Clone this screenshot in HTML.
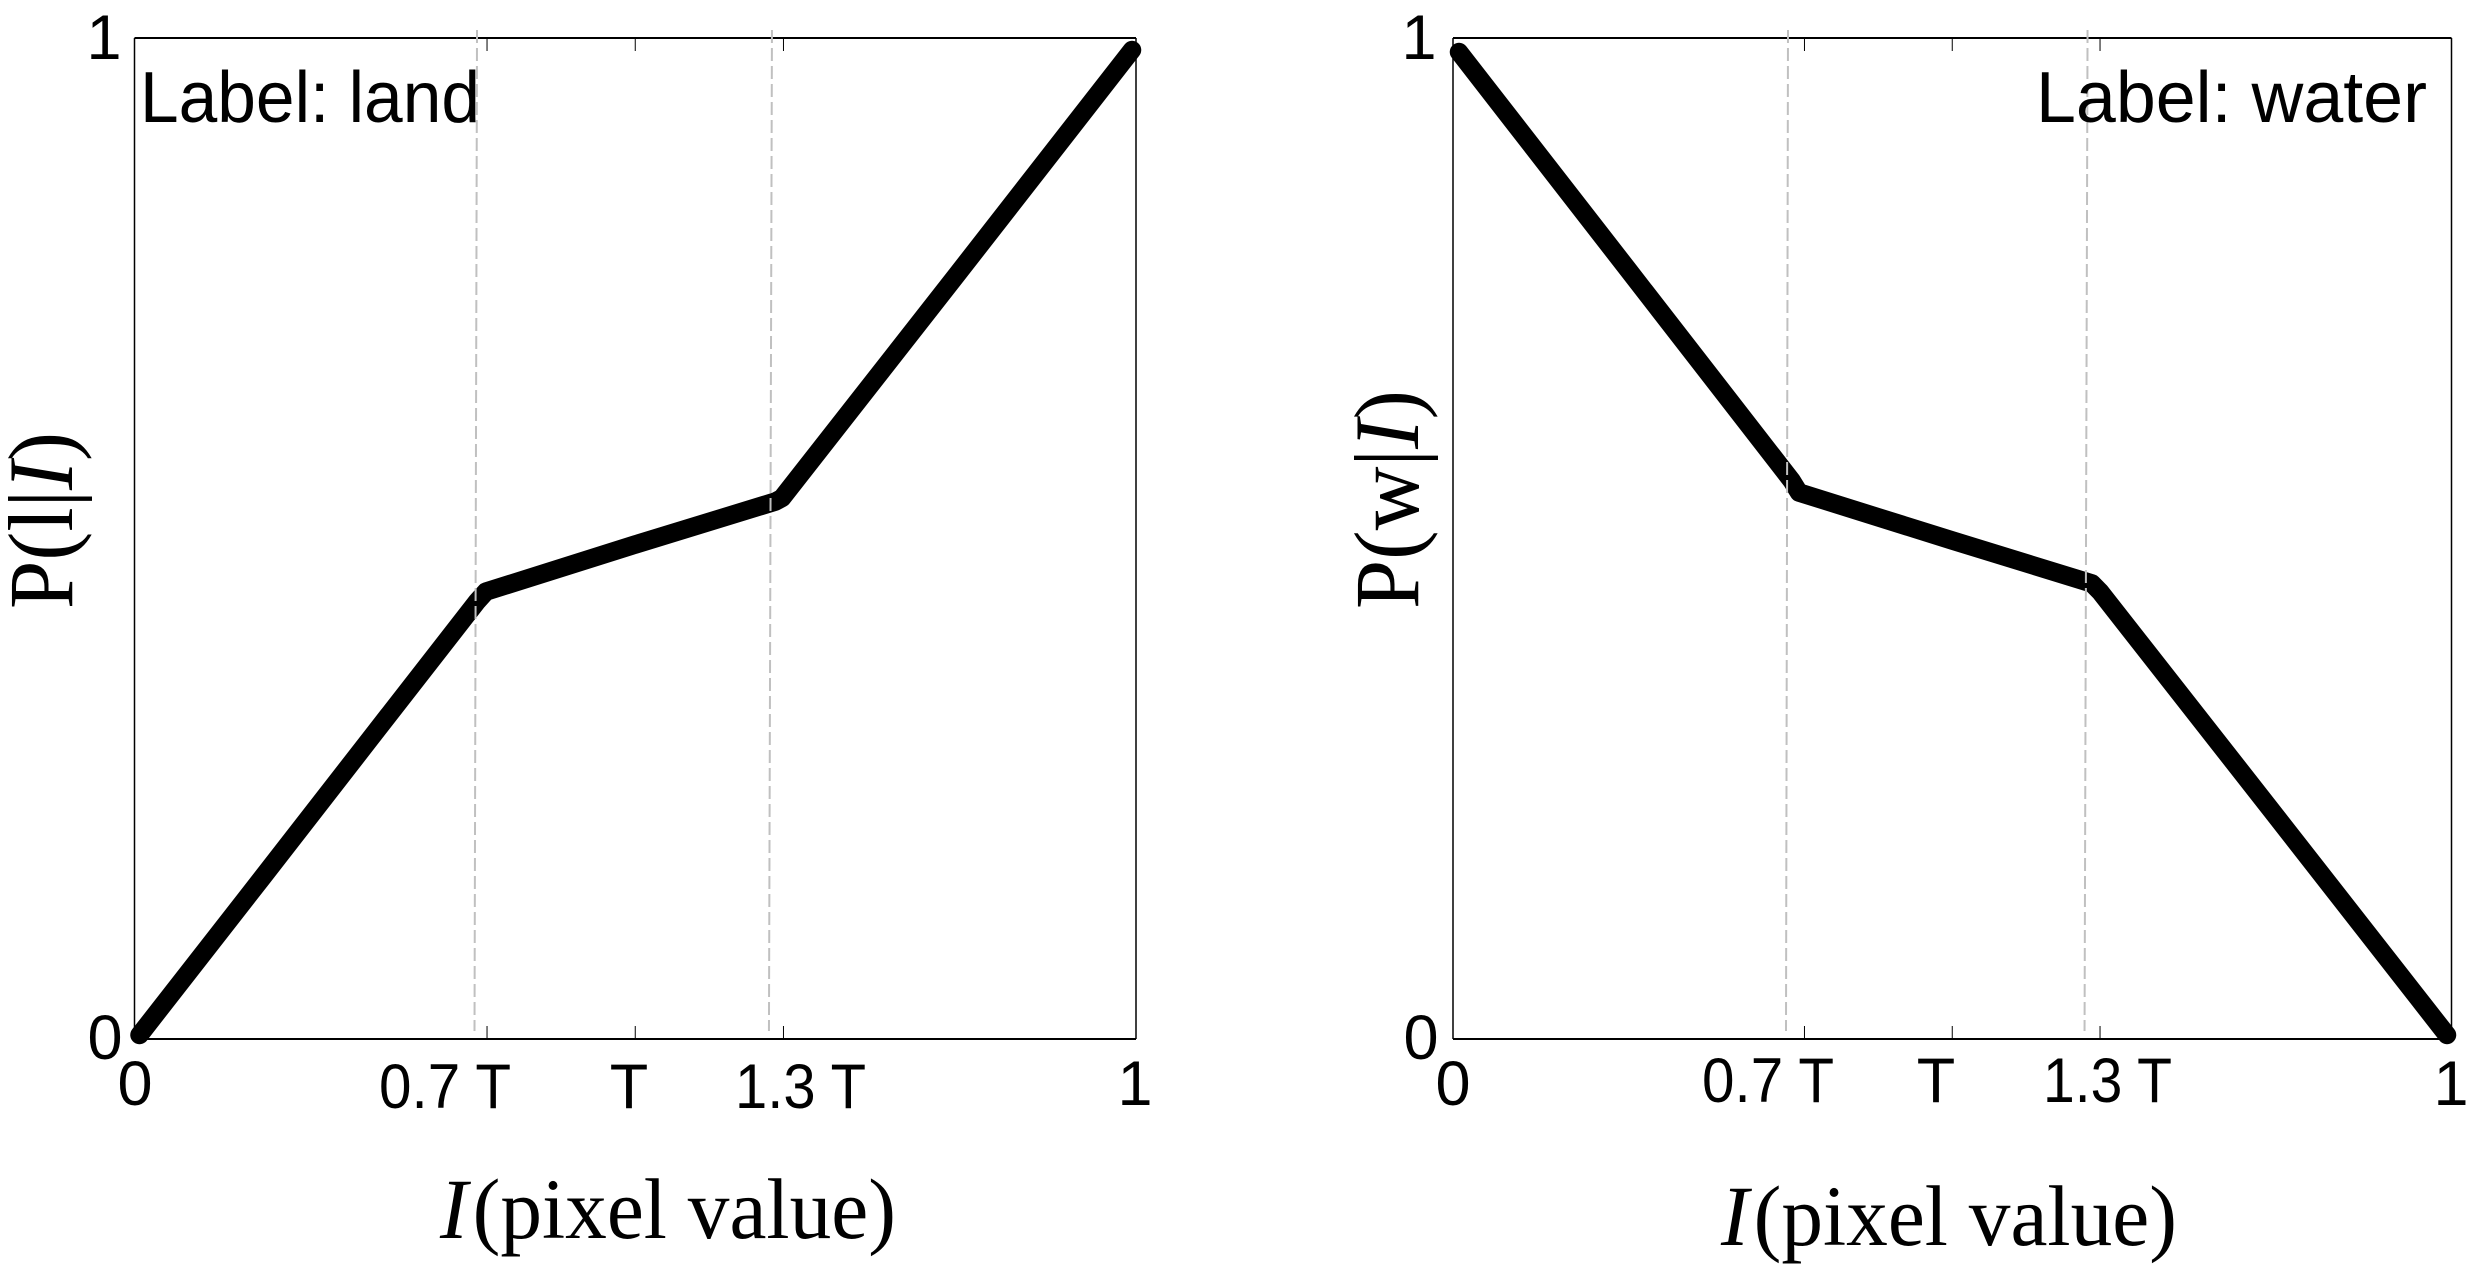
<!DOCTYPE html>
<html lang="en">
<head>
<meta charset="utf-8">
<title>P(l|I) and P(w|I) versus pixel value</title>
<style>
html,body{margin:0;padding:0;background:#fff;}
svg{display:block;}
.sans{font-family:"Liberation Sans",sans-serif;fill:#000;}
.serif{font-family:"Liberation Serif",serif;fill:#000;}
</style>
</head>
<body>
<svg id="figure" width="2467" height="1275" viewBox="0 0 2467 1275" xmlns="http://www.w3.org/2000/svg">
  <rect width="2467" height="1275" fill="#fff"/>

  <g id="panel-land"></g>
  <g id="panel-water"></g>

  <!-- Land panel text -->
  <text class="sans" x="140" y="122" font-size="72" textLength="340" lengthAdjust="spacingAndGlyphs">Label: land</text>
  <text class="sans" x="104" y="59" font-size="63" text-anchor="middle">1</text>
  <text class="sans" x="105" y="1059" font-size="63" text-anchor="middle">0</text>
  <text class="sans" x="135" y="1105" font-size="63" text-anchor="middle">0</text>
  <text class="sans" x="379" y="1108" font-size="63" textLength="132" lengthAdjust="spacingAndGlyphs">0.7 T</text>
  <text class="sans" x="629" y="1108" font-size="63" text-anchor="middle">T</text>
  <text class="sans" x="735" y="1108" font-size="63" textLength="131" lengthAdjust="spacingAndGlyphs">1.3 T</text>
  <text class="sans" x="1135" y="1105" font-size="63" text-anchor="middle">1</text>
  <text class="serif" x="440" y="1238" font-size="86" textLength="456" lengthAdjust="spacingAndGlyphs"><tspan font-style="italic">I</tspan><tspan font-size="20"> </tspan>(pixel value)</text>
  <text class="serif" transform="translate(72,609) rotate(-90)" font-size="92" textLength="177" lengthAdjust="spacingAndGlyphs">P(l|<tspan font-style="italic">I</tspan>)</text>

  <!-- Water panel text -->
  <text class="sans" x="2036" y="122" font-size="72" textLength="391" lengthAdjust="spacingAndGlyphs">Label: water</text>
  <text class="sans" x="1419" y="59" font-size="63" text-anchor="middle">1</text>
  <text class="sans" x="1421" y="1059" font-size="63" text-anchor="middle">0</text>
  <text class="sans" x="1453" y="1105" font-size="63" text-anchor="middle">0</text>
  <text class="sans" x="1702" y="1102" font-size="63" textLength="132" lengthAdjust="spacingAndGlyphs">0.7 T</text>
  <text class="sans" x="1936" y="1102" font-size="63" text-anchor="middle">T</text>
  <text class="sans" x="2043" y="1102" font-size="63" textLength="129" lengthAdjust="spacingAndGlyphs">1.3 T</text>
  <text class="sans" x="2451" y="1105" font-size="63" text-anchor="middle">1</text>
  <text class="serif" x="1721" y="1245" font-size="86" textLength="456" lengthAdjust="spacingAndGlyphs"><tspan font-style="italic">I</tspan><tspan font-size="20"> </tspan>(pixel value)</text>
  <text class="serif" transform="translate(1418,609) rotate(-90)" font-size="92" textLength="219" lengthAdjust="spacingAndGlyphs">P(w|<tspan font-style="italic">I</tspan>)</text>
</svg>

<script>
// Chart data
const xTickValues = [0, 0.352, 0.5, 0.648, 1];
const landX = [0.005, 0.1273, 0.2351, 0.342, 0.351, 0.5, 0.640, 0.6465, 0.82, 0.996];
const landY = [0.004, 0.1608, 0.2997, 0.437, 0.447, 0.494, 0.537, 0.5405, 0.762, 0.988];
const waterX = [0.006, 0.175, 0.339, 0.3465, 0.5, 0.640, 0.648, 0.82, 0.9955];
const waterY = [0.986, 0.769, 0.558, 0.546, 0.498, 0.455, 0.447, 0.228, 0.004];
const landGuideTop = [0.3420, 0.6365];
const landGuideBottom = [0.3395, 0.6335];
const waterGuideTop = [0.3355, 0.6355];
const waterGuideBottom = [0.3335, 0.6325];

const SVG_NS = 'http://www.w3.org/2000/svg';

function line(parent, x1, y1, x2, y2, color, width) {
  const el = document.createElementNS(SVG_NS, 'line');
  el.setAttribute('x1', x1);
  el.setAttribute('y1', y1);
  el.setAttribute('x2', x2);
  el.setAttribute('y2', y2);
  el.setAttribute('stroke', color);
  el.setAttribute('stroke-width', width);
  parent.appendChild(el);
  return el;
}

function drawPanel(groupId, box, xs, ys, guideTop, guideBottom, prefix) {
  const g = document.getElementById(groupId);
  const sx = v => box.left + v * (box.right - box.left);
  const sy = v => box.bottom - v * (box.bottom - box.top);

  const leftAxis = line(g, box.left, box.top, box.left, box.bottom, '#000', 1.5);
  
  
  const rightAxis = line(g, box.right, box.top, box.right, box.bottom, '#000', 1.5);
  
  
  const topAxis = line(g, box.left, box.top, box.right, box.top, '#000', 2);
  
  
  const bottomAxis = line(g, box.left, box.bottom, box.right, box.bottom, '#000', 2);
  
  

  xTickValues.slice(1, -1).forEach((v) => {
    const tickB = line(g, sx(v), box.bottom, sx(v), box.bottom - 13, '#000', 1);
    
    
    const tickT = line(g, sx(v), box.top, sx(v), box.top + 13, '#000', 1);
    
    
  });

  const path = document.createElementNS(SVG_NS, 'path');
  path.setAttribute('d', xs.map((x, i) => (i ? 'L' : 'M') + sx(x).toFixed(1) + ' ' + sy(ys[i]).toFixed(1)).join(' '));
  path.setAttribute('fill', 'none');
  path.setAttribute('stroke', '#000');
  path.setAttribute('stroke-width', 18.5);
  path.setAttribute('stroke-linejoin', 'round');
  path.setAttribute('stroke-linecap', 'round');
  
  
  g.appendChild(path);

  guideTop.forEach((v, i) => {
    const guide = line(g, sx(v), box.top - 8, sx(guideBottom[i]), box.bottom - 8, '#c0c0c0', 2);
    guide.setAttribute('stroke-dasharray', '13 5');
    
    
  });
}

const landBox = { left: 134.5, right: 1136, top: 38, bottom: 1039 };
const waterBox = { left: 1453, right: 2451.5, top: 38, bottom: 1039 };
drawPanel('panel-land', landBox, landX, landY, landGuideTop, landGuideBottom, 'land');
drawPanel('panel-water', waterBox, waterX, waterY, waterGuideTop, waterGuideBottom, 'water');
</script>
</body>
</html>
